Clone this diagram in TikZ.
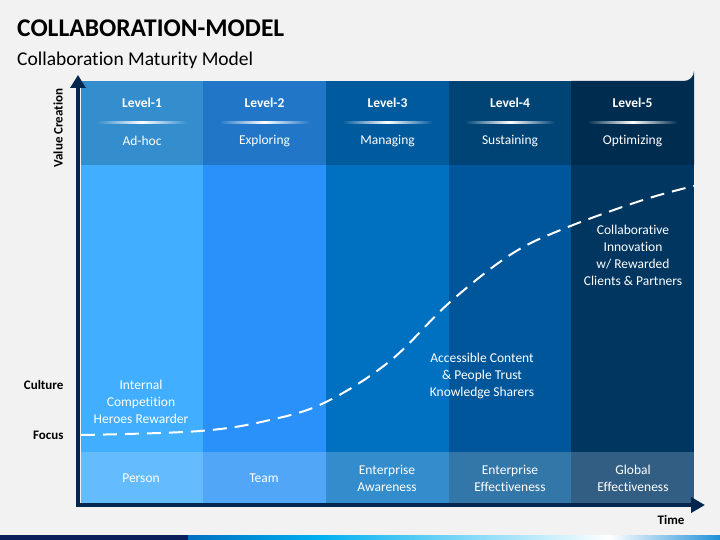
\documentclass[tikz,border=0pt]{standalone}
\usepackage{fontspec}
\setmainfont{Carlito}[Ligatures={NoCommon}]
\usetikzlibrary{arrows.meta}
\definecolor{bg}{HTML}{F2F2F2}
\definecolor{axisc}{HTML}{00264D}
\definecolor{hA}{HTML}{348DCC}\definecolor{hB}{HTML}{2176C8}\definecolor{hC}{HTML}{005A9E}\definecolor{hD}{HTML}{004476}\definecolor{hE}{HTML}{002C4F}
\definecolor{bA}{HTML}{42AEFF}\definecolor{bB}{HTML}{2A91FA}\definecolor{bC}{HTML}{0070C0}\definecolor{bD}{HTML}{00569A}\definecolor{bE}{HTML}{003660}
\definecolor{cA}{HTML}{64BCFF}\definecolor{cB}{HTML}{52A6F7}\definecolor{cC}{HTML}{338DCC}\definecolor{cD}{HTML}{3377A9}\definecolor{cE}{HTML}{335E84}
\definecolor{navy}{HTML}{0A1F5C}
\tikzset{
  lvl/.style={text=white,font=\bfseries\fontsize{13.5}{16}\selectfont},
  lname/.style={text=white,font=\fontsize{13.5}{16}\selectfont},
  wtxt/.style={text=white,font=\fontsize{13.5}{17}\selectfont,align=center},
  axlbl/.style={text=black,font=\bfseries\fontsize{13}{15}\selectfont},
}
\begin{document}
\begin{tikzpicture}[x=1pt,y=-1pt]
\useasboundingbox (0,0) rectangle (720,540);
\fill[bg] (0,0) rectangle (720,540);
% bottom bar
\fill[navy] (0,535) rectangle (188,540);
\shade[left color=bC,right color={rgb,255:red,0;green,176;blue,240}] (188,535) rectangle (320,540);
\shade[left color={rgb,255:red,0;green,176;blue,240},right color=white] (319.5,535) rectangle (610,540);
\shade[left color=white,right color={rgb,255:red,30;green,144;blue,216}] (609.5,535) rectangle (720,540);
% titles
\node[anchor=base west,inner sep=0,font=\bfseries\fontsize{25.5}{28}\selectfont] (title) at (17,37) {COLLABORATION-MODEL};
\node[anchor=base west,inner sep=0,font=\fontsize{19.5}{22}\selectfont] (sub) at (17,66) {Collaboration Maturity Model};
% columns
\def\colx{{81,203,326,449,571,694}}
\foreach \i/\h/\b/\c in {0/hA/bA/cA,1/hB/bB/cB,2/hC/bC/cC,3/hD/bD/cD}{
  \pgfmathsetmacro{\xl}{\colx[\i]}
  \pgfmathsetmacro{\xr}{\colx[\i+1]}
  \fill[\h] (\xl,81) rectangle (\xr+0.5,165);
  \fill[\b] (\xl,165) rectangle (\xr+0.5,452);
  \fill[\c] (\xl,452) rectangle (\xr+0.5,503);
}
\fill[hE] (571,165) -- (571,81) -- (684,81) arc[start angle=90,end angle=0,radius=10] -- (694,165) -- cycle;
\fill[bE] (571,165) rectangle (694,452);
\fill[cE] (571,452) rectangle (694,503);
% header texts and dividers
\foreach \i/\lv/\nm/\h in {0/Level-1/Ad-hoc/hA,1/Level-2/Exploring/hB,2/Level-3/Managing/hC,3/Level-4/Sustaining/hD,4/Level-5/Optimizing/hE}{
  \pgfmathsetmacro{\xl}{\colx[\i]}
  \pgfmathsetmacro{\xr}{\colx[\i+1]}
  \pgfmathsetmacro{\xm}{(\xl+\xr)/2}
  \node[lvl] (lv\i) at (\xm,103) {\lv};
  \shade[left color=\h,right color=\h,middle color=white] (\xl+16,122) rectangle (\xr-16,124);
  \node[lname] (nm\i) at (\xm,141) {\nm};
}
% bottom band texts
\node[wtxt] (f1) at (141,478) {Person};
\node[wtxt] (f2) at (264,478) {Team};
\node[wtxt] (f3) at (387,478) {Enterprise\\Awareness};
\node[wtxt] (f4) at (510,478) {Enterprise\\Effectiveness};
\node[wtxt] (f5) at (633,478) {Global\\Effectiveness};
% body texts
\node[wtxt] (t1) at (141,402) {Internal\\Competition\\Heroes Rewarder};
\node[wtxt] (t3) at (482,376) {Accessible Content\\\& People Trust\\Knowledge Sharers};
\node[wtxt] (t5) at (633,255.5) {Collaborative\\Innovation\\w/ Rewarded\\Clients \& Partners};
% dashed curve
\draw[white,line width=2,dash pattern=on 14 off 8] plot[smooth,tension=0.6] coordinates {(81,435) (200,431) (270,420) (326,402) (390,361) (449,303) (510,255) (563,229) (643,200) (694,186)};
% axes
\coordinate (o) at (78,505);
\coordinate (ytop) at (78,75);
\coordinate (xend) at (705,505);
\draw[axisc,line width=4.5,-{Triangle[length=13,width=15]}] (78,507.25) -- (ytop);
\draw[axisc,line width=4.5,-{Triangle[length=14,width=15]}] (75.75,505) -- (xend);
% axis labels
\node[axlbl,rotate=90] (vc) at (58,128) {Value Creation};
\node[axlbl,anchor=east] (cu) at (67,385) {Culture};
\node[axlbl,anchor=east] (fo) at (67,435) {Focus};
\node[axlbl,anchor=east] (ti) at (688,520) {Time};
\end{tikzpicture}
\end{document}
